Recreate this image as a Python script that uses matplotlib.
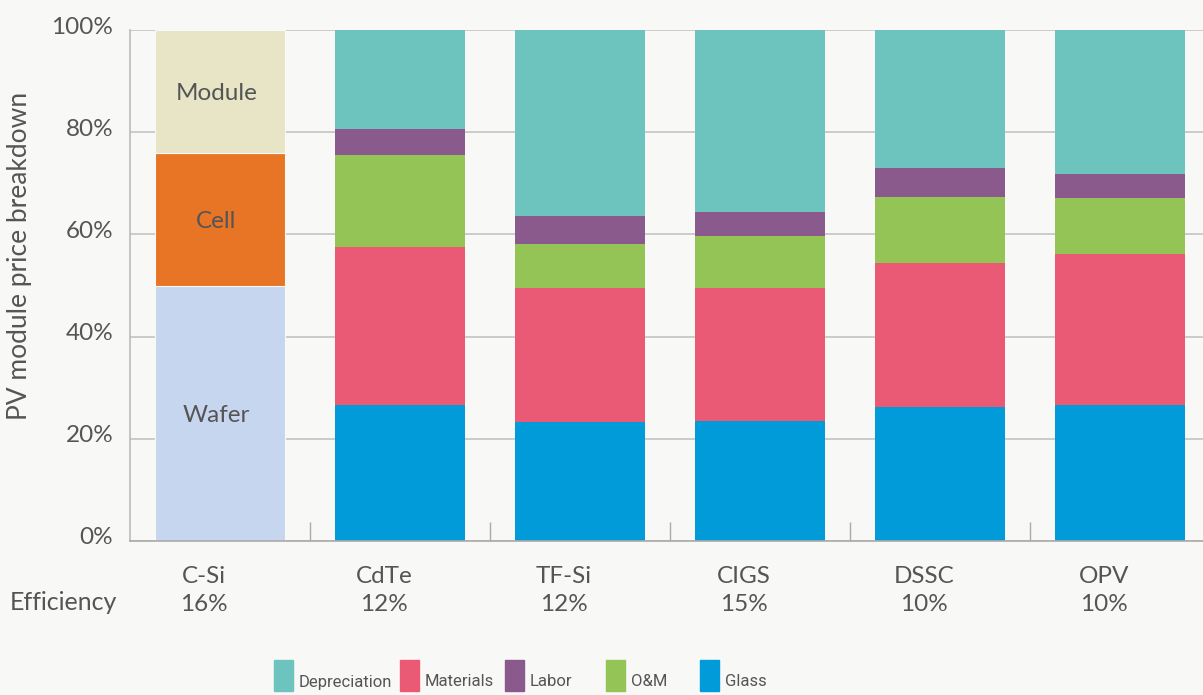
import matplotlib.pyplot as plt
import matplotlib.transforms as mtransforms
from matplotlib.patches import Rectangle
import numpy as np

# data (percent of module price)
techs = ["C-Si", "CdTe", "TF-Si", "CIGS", "DSSC", "OPV"]
efficiency = ["16%", "12%", "12%", "15%", "10%", "10%"]

csi_parts = ["Wafer", "Cell", "Module"]
csi_values = [50.0, 26.0, 24.0]

# thin-film techs (CdTe, TF-Si, CIGS, DSSC, OPV), bottom to top
glass = [26.6, 23.3, 23.5, 26.2, 26.6]
materials = [30.9, 26.2, 26.0, 28.2, 29.6]
om = [18.0, 8.6, 10.2, 12.9, 10.9]
labor = [5.1, 5.5, 4.7, 5.7, 4.7]
depreciation = [19.4, 36.4, 35.6, 27.0, 28.2]

legend_names = ["Depreciation", "Materials", "Labor", "O&M", "Glass"]

c_dep = "#6DC4BE"
c_mat = "#EB5A75"
c_lab = "#8A5A8C"
c_om = "#95C456"
c_gla = "#009BD8"
csi_colors = ["#C6D6EE", "#E87425", "#E8E4C6"]
bg = "#F8F8F6"
txt = "#555555"
fs = 17.5

plt.rcParams['font.family'] = ['Lato', 'DejaVu Sans']

fig = plt.figure(figsize=(12.03, 6.95), dpi=100, facecolor=bg)
W, H = 1203, 695
ax = fig.add_axes([130 / W, (H - 541) / H, 1080 / W, 511 / H])
ax.set_facecolor(bg)

width = 0.72
x = np.arange(len(techs))

# C-Si bar
bottom = 0
for name, v, c in zip(csi_parts, csi_values, csi_colors):
    ax.bar(x[0], v, width, bottom=bottom, color=c, edgecolor=bg, linewidth=0.8, zorder=2)
    ax.text(x[0] - 0.02, bottom + v / 2, name, ha="center", va="center_baseline",
            fontsize=fs, color=txt, zorder=3)
    bottom += v

# thin film stacks
xs = x[1:]
series = [(glass, c_gla), (materials, c_mat), (om, c_om), (labor, c_lab), (depreciation, c_dep)]
bottom = np.zeros(len(xs))
for vals, c in series:
    ax.bar(xs, vals, width, bottom=bottom, color=c, zorder=2)
    bottom += np.array(vals)

ax.set_xlim(-0.5, 5.5)
ax.set_ylim(0, 100)
ax.set_yticks([0, 20, 40, 60, 80, 100])
ax.set_yticklabels(["0%", "20%", "40%", "60%", "80%", "100%"])
ax.yaxis.grid(True, color="#C4C4C4", linewidth=1.2, zorder=0)
ax.tick_params(axis="y", length=0, labelsize=fs, labelcolor=txt, pad=12)
shift = mtransforms.ScaledTranslation(0, 5 / 100, fig.dpi_scale_trans)
for lab in ax.get_yticklabels():
    lab.set_transform(lab.get_transform() + shift)

# category separators as inner ticks
ax.set_xticks(np.arange(0.5, 5.5, 1.0))
ax.set_xticklabels([])
ax.tick_params(axis="x", direction="in", length=14, color="#AAAAAA", width=1)

for s in ["top", "right"]:
    ax.spines[s].set_visible(False)
ax.spines["left"].set_color("#BBBBBB")
ax.spines["bottom"].set_color("#AAAAAA")
ax.spines["left"].set_linewidth(1.2)
ax.spines["bottom"].set_linewidth(1.2)

fig.text(20 / W, 1 - 256 / H, "PV module price breakdown", rotation=90,
         ha="center", va="center", fontsize=19, color=txt)

# category labels and efficiency
for i, (t, e) in enumerate(zip(techs, efficiency)):
    ax.text(i - 0.09, -7, t, ha="center", va="center", fontsize=fs, color=txt,
            clip_on=False)
    ax.text(i - 0.09, -12.5, e, ha="center", va="center", fontsize=fs, color=txt,
            clip_on=False)
fig.text(10 / W, 1 - 603 / H, "Efficiency", ha="left", va="center", fontsize=fs + 0.5, color=txt)

# legend
leg_colors = [c_dep, c_mat, c_lab, c_om, c_gla]
leg_x = [274, 400, 505, 606, 700]
for name, c, lx in zip(legend_names, leg_colors, leg_x):
    fig.patches.append(Rectangle((lx / W, 1 - 691 / H), 19 / W, 31 / H,
                                 transform=fig.transFigure, color=c))
    fig.text((lx + 25) / W, 1 - 682 / H, name, ha="left", va="center", fontsize=12,
             color=txt, family=['Roboto', 'DejaVu Sans'])

fig.savefig("out.png", dpi=100, facecolor=bg)
